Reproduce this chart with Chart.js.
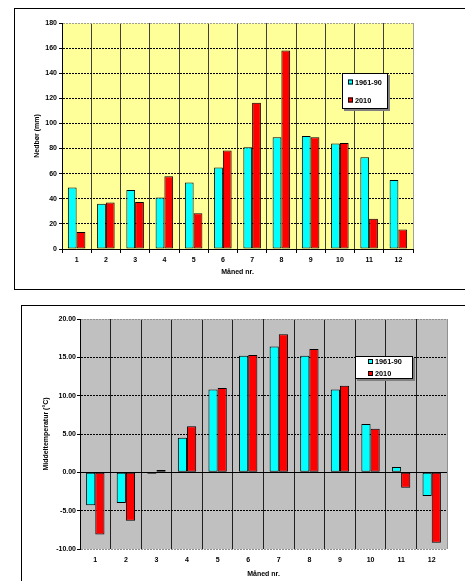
<!DOCTYPE html>
<html>
<head>
<meta charset="utf-8">
<script src="https://cdn.jsdelivr.net/npm/chart.js"></script>
<title>Nedbør og middeltemperatur</title>
<style>
  html, body { margin: 0; padding: 0; background: #fff; overflow: hidden; }
  #page { position: relative; width: 465px; height: 581px; overflow: hidden; }
  .frame { position: absolute; border: 1px solid #000; border-right: 0; box-sizing: border-box; }
  canvas { position: absolute; left: 0; }
</style>
</head>
<body>
<div id="page">
  <div class="frame" style="left:14px; top:8px; width:520px; height:282px;"></div>
  <div class="frame" style="left:21px; top:305px; width:520px; height:320px; border-bottom:0;"></div>
  <canvas id="rainChart" width="465" height="290" style="top:0"></canvas>
  <canvas id="tempChart" width="465" height="291" style="top:290px"></canvas>
</div>

<script>
// months and series
const months = ['1', '2', '3', '4', '5', '6', '7', '8', '9', '10', '11', '12'];
const seriesNames = ['1961-90', '2010'];

// precipitation (mm)
const rainNormal = [49, 36, 47, 41, 53, 65, 81, 89, 90, 84, 73, 55];
const rain2010 = [13.5, 37, 37.5, 58, 28.5, 78.5, 116.5, 158, 89, 84.5, 24, 15.5];

// mean temperature (°C)
const tempNormal = [-4.3, -4.0, -0.2, 4.5, 10.8, 15.2, 16.4, 15.2, 10.8, 6.3, 0.7, -3.1];
const temp2010 = [-8.1, -6.3, 0.3, 6.0, 11.0, 15.3, 18.0, 16.1, 11.3, 5.7, -2.0, -9.2];

const FONT = '"Liberation Sans", Arial, sans-serif';
const tickFont = { family: FONT, size: 7, weight: 'bold' };

// fill the plot area
const plotBg = {
  id: 'plotBg',
  beforeDraw(chart, args, opts) {
    const { ctx, chartArea: a } = chart;
    ctx.save();
    ctx.fillStyle = opts.color;
    ctx.fillRect(a.left, a.top, a.right - a.left, a.bottom - a.top);
    ctx.restore();
  }
};

// boxed legend like the spreadsheet one
const boxLegend = {
  id: 'boxLegend',
  afterDatasetsDraw(chart, args, o) {
    const ctx = chart.ctx;
    ctx.save();
    ctx.fillStyle = '#808080';
    ctx.fillRect(o.x + 2, o.y + 2, o.w, o.h);
    ctx.fillStyle = '#fff';
    ctx.fillRect(o.x, o.y, o.w, o.h);
    ctx.strokeStyle = '#000';
    ctx.lineWidth = 1;
    ctx.strokeRect(o.x + 0.5, o.y + 0.5, o.w - 1, o.h - 1);
    ctx.font = 'bold 7.3px ' + FONT;
    ctx.textBaseline = 'middle';
    chart.data.datasets.forEach((ds, i) => {
      const y = o.y + o.rows[i];
      ctx.fillStyle = ds.backgroundColor;
      ctx.fillRect(o.x + o.sx, y - 2.5, 5, 5);
      ctx.strokeRect(o.x + o.sx + 0.5, y - 2, 4, 4);
      ctx.fillStyle = '#000';
      ctx.fillText(ds.label, o.x + o.sx + 7, y + 0.5);
    });
    ctx.restore();
  }
};

function makeDatasets(a, b) {
  return [
    { label: seriesNames[0], data: a, backgroundColor: '#00FFFF', borderColor: '#000', borderWidth: 1, borderSkipped: false,
      categoryPercentage: 0.6, barPercentage: 1 },
    { label: seriesNames[1], data: b, backgroundColor: '#FF0000', borderColor: '#000', borderWidth: 1, borderSkipped: false,
      categoryPercentage: 0.6, barPercentage: 1 }
  ];
}

/** chart 1: precipitation **/
new Chart(document.getElementById('rainChart'), {
  type: 'bar',
  data: { labels: months, datasets: makeDatasets(rainNormal, rain2010) },
  options: {
    responsive: false,
    animation: false,
    layout: { padding: { left: 33, right: 52, top: 23, bottom: 14 } },
    plugins: {
      legend: { display: false },
      tooltip: { enabled: false },
      plotBg: { color: '#FFFF99' },
      boxLegend: { x: 342, y: 73, w: 46, h: 36, sx: 6, rows: [9, 27] }
    },
    scales: {
      x: {
        afterFit: s => { s.height = 27; },
        grid: {
          color: c => c.type === 'tick' ? '#404040' : '#a0a0a0',
          lineWidth: 1, drawTicks: true, tickLength: 4, tickColor: '#000'
        },
        border: { display: true, color: '#000', width: 1 },
        ticks: { font: tickFont, color: '#000', padding: 3, maxRotation: 0 },
        title: { display: true, text: 'Måned nr.', font: tickFont, color: '#000', padding: 0 }
      },
      y: {
        min: 0, max: 180,
        afterFit: s => { s.width = 29; },
        grid: {
          color: c => (c.tick && c.tick.value === 180) ? '#a0a0a0' : '#000',
          lineWidth: 1, drawTicks: true, tickLength: 3, tickColor: '#000', tickBorderDash: []
        },
        border: { display: true, color: '#000', width: 1, dash: [2, 1] },
        ticks: { stepSize: 20, font: tickFont, color: '#000', padding: 2 },
        title: { display: true, text: 'Nedbør (mm)', font: tickFont, color: '#000', padding: 0 }
      }
    }
  },
  plugins: [plotBg, boxLegend]
});

/** chart 2: mean temperature **/
new Chart(document.getElementById('tempChart'), {
  type: 'bar',
  data: { labels: months, datasets: makeDatasets(tempNormal, temp2010) },
  options: {
    responsive: false,
    animation: false,
    layout: { padding: { left: 42, right: 18, top: 29, bottom: 3 } },
    plugins: {
      legend: { display: false },
      tooltip: { enabled: false },
      plotBg: { color: '#C0C0C0' },
      boxLegend: { x: 355, y: 66, w: 58, h: 23, sx: 13, rows: [5.5, 17.5] }
    },
    scales: {
      x: {
        afterFit: s => { s.height = 29; },
        grid: {
          color: c => c.type === 'tick' ? '#202020' : '#909090',
          lineWidth: 1, drawTicks: false
        },
        border: { display: false },
        ticks: { font: tickFont, color: '#000', padding: 7, maxRotation: 0 },
        title: { display: true, text: 'Måned nr.', font: tickFont, color: '#000', padding: 0 }
      },
      y: {
        min: -10, max: 20,
        afterFit: s => { s.width = 38; },
        grid: {
          color: c => {
            if (!c.tick) return '#000';
            if (c.tick.value === 20 || c.tick.value === -10) return '#909090';
            return '#000';
          },
          lineWidth: 1, drawTicks: true, tickLength: 3, tickColor: '#000', tickBorderDash: []
        },
        border: {
          display: true, color: '#000', width: 1,
          dash: c => (c.tick && c.tick.value === 0) ? [] : [2, 1]
        },
        ticks: { stepSize: 5, font: tickFont, color: '#000', padding: 1, callback: v => v.toFixed(2) },
        title: { display: true, text: 'Middeltemperatur (°C)', font: tickFont, color: '#000', padding: 0 }
      }
    }
  },
  plugins: [plotBg, boxLegend]
});
</script>
</body>
</html>
